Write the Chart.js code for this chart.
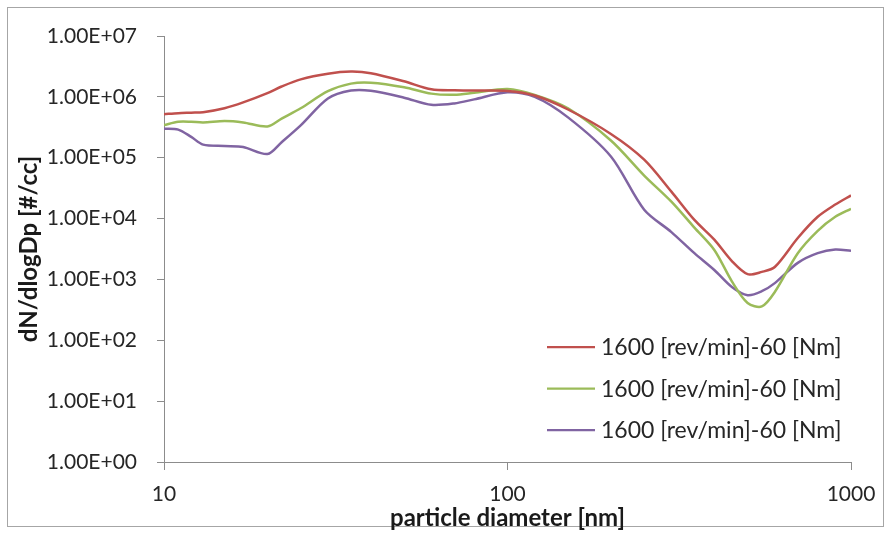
<!DOCTYPE html>
<html>
<head>
<meta charset="utf-8">
<script src="https://cdn.jsdelivr.net/npm/chart.js@4/dist/chart.umd.min.js"></script>
<style>
  html, body { margin: 0; padding: 0; background: #fff; }
  #wrap { width: 891px; height: 533px; position: relative; }
</style>
</head>
<body>
<div id="wrap"><canvas id="c" width="891" height="533"></canvas></div>
<script>
// ---- data ----
const diameters = [10,11,12,13,15,17,20,22,25,30,35,40,50,60,70,80,100,120,150,200,250,300,350,400,450,500,550,600,700,800,900,1000];
const seriesLabels = ['1600 [rev/min]-60 [Nm]', '1600 [rev/min]-60 [Nm]', '1600 [rev/min]-60 [Nm]'];
const redSeries = [5.2e5,5.4e5,5.5e5,5.6e5,6.5e5,8.1e5,1.15e6,1.48e6,1.94e6,2.4e6,2.6e6,2.45e6,1.8e6,1.33e6,1.28e6,1.27e6,1.25e6,1.05e6,6.2e5,2.46e5,9.3e4,2.77e4,9.5e3,4.5e3,2.0e3,1.22e3,1.33e3,1.6e3,4.8e3,1.07e4,1.7e4,2.4e4];
const greenSeries = [3.44e5,3.9e5,3.9e5,3.8e5,4.0e5,3.8e5,3.27e5,4.4e5,6.5e5,1.24e6,1.65e6,1.71e6,1.44e6,1.13e6,1.08e6,1.17e6,1.35e6,1.08e6,6.5e5,1.92e5,5.1e4,1.9e4,7.1e3,3.05e3,9.3e2,4.1e2,3.6e2,6.2e2,2.7e3,6.3e3,1.07e4,1.45e4];
const purpleSeries = [3.0e5,2.9e5,2.2e5,1.64e5,1.56e5,1.5e5,1.15e5,1.8e5,3.4e5,9.4e5,1.27e6,1.26e6,9.7e5,7.4e5,7.8e5,9.1e5,1.19e6,1.0e6,4.6e5,1.05e5,1.4e4,6.0e3,2.7e3,1.43e3,7.5e2,5.5e2,6.4e2,8.7e2,1.87e3,2.7e3,3.1e3,2.95e3];
const xTicks = [10, 100, 1000];
const yTicks = [1, 10, 100, 1000, 1e4, 1e5, 1e6, 1e7];
const xTitle = 'particle diameter [nm]';
const yTitle = 'dN/dlogDp [#/cc]';

// ---- styling ----
const colors = ['#C0504D', '#9BBB59', '#8064A2'];
const FONT = 'Lato, "Open Sans", "Liberation Sans", sans-serif';
const axisGray = '#8c8c8c';

function fmtExp(v) {
  const e = Math.round(Math.log10(v));
  const m = v / Math.pow(10, e);
  return m.toFixed(2) + 'E' + (e >= 0 ? '+' : '-') + String(Math.abs(e)).padStart(2, '0');
}

const allSeries = [redSeries, greenSeries, purpleSeries];
const datasets = allSeries.map((s, i) => ({
  label: seriesLabels[i],
  data: diameters.map((d, j) => ({ x: d, y: s[j] })),
  borderColor: colors[i],
  backgroundColor: colors[i],
  borderWidth: 2.5,
  pointRadius: 0,
  tension: 0.3,
  fill: false
}));

const frame = {
  id: 'frame',
  beforeDraw(chart) {
    const ctx = chart.ctx;
    ctx.save();
    ctx.fillStyle = '#fff';
    ctx.fillRect(0, 0, chart.width, chart.height);
    ctx.strokeStyle = '#a6a6a6';
    ctx.lineWidth = 1;
    ctx.strokeRect(7.5, 7.5, 876, 519);
    ctx.restore();
  }
};

const insideLegend = {
  id: 'insideLegend',
  afterDraw(chart) {
    const ctx = chart.ctx;
    const ca = chart.chartArea;
    ctx.save();
    ctx.font = '23px ' + FONT;
    ctx.textBaseline = 'middle';
    ctx.textAlign = 'left';
    const x0 = ca.left + 383, x1 = ca.left + 431, tx = ca.left + 437;
    chart.data.datasets.forEach((ds, i) => {
      const y = ca.top + 311 + i * 41.5;
      ctx.strokeStyle = ds.borderColor;
      ctx.lineWidth = 2.25;
      ctx.beginPath();
      ctx.moveTo(x0, y);
      ctx.lineTo(x1, y);
      ctx.stroke();
      ctx.fillStyle = '#262626';
      ctx.fillText(ds.label, tx, y + 1);
    });
    ctx.restore();
  }
};

new Chart(document.getElementById('c'), {
  type: 'line',
  data: { datasets },
  plugins: [frame, insideLegend],
  options: {
    responsive: false,
    animation: false,
    layout: { padding: { top: 36, right: 40, left: 0, bottom: 0 } },
    plugins: { legend: { display: false }, tooltip: { enabled: false } },
    scales: {
      x: {
        type: 'logarithmic',
        min: 10, max: 1000,
        afterBuildTicks(scale) { scale.ticks = xTicks.map(v => ({ value: v })); },
        afterFit(scale) { scale.height = 533 - 462; },
        ticks: {
          color: '#262626', font: { family: FONT, size: 21 }, padding: 12,
          autoSkip: false, maxRotation: 0,
          callback: v => String(v)
        },
        grid: { display: true, drawOnChartArea: false, drawTicks: true, tickLength: 8, color: axisGray, lineWidth: 1 },
        border: { display: true, color: axisGray, width: 1 },
        title: { display: true, text: xTitle, color: '#1a1a1a', font: { family: FONT, size: 24, weight: 'bold' }, padding: { top: 0, bottom: 0 } }
      },
      y: {
        type: 'logarithmic',
        min: 1, max: 1e7,
        afterBuildTicks(scale) { scale.ticks = yTicks.map(v => ({ value: v })); },
        afterFit(scale) { scale.width = 164; },
        ticks: {
          color: '#262626', font: { family: FONT, size: 21 }, padding: 20,
          autoSkip: false,
          callback: v => fmtExp(v)
        },
        grid: { display: true, drawOnChartArea: false, drawTicks: true, tickLength: 7, color: axisGray, lineWidth: 1 },
        border: { display: true, color: axisGray, width: 1 },
        title: { display: true, text: yTitle, color: '#1a1a1a', font: { family: FONT, size: 24, weight: 'bold' }, padding: { top: 15, bottom: 0 } }
      }
    }
  }
});
</script>
</body>
</html>
